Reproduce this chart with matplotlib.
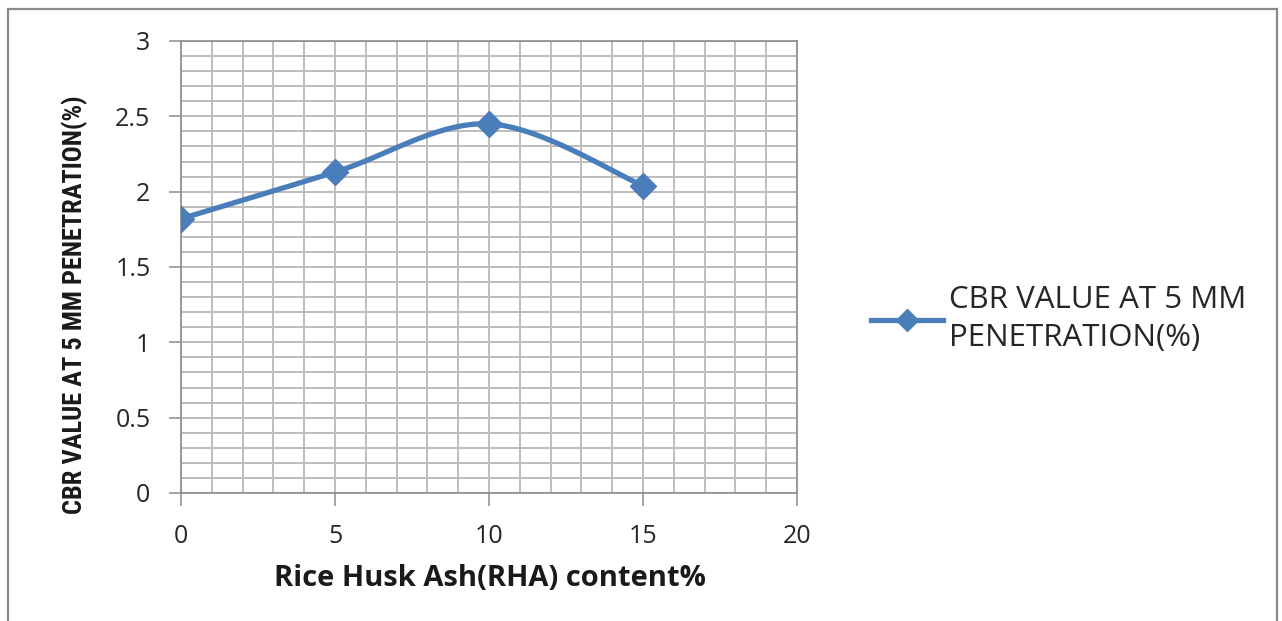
import numpy as np
import matplotlib
matplotlib.use("Agg")
import matplotlib.pyplot as plt
from matplotlib.patches import Rectangle
from matplotlib.lines import Line2D

# RHA content (%) and CBR at 5 mm penetration (%)
rha_content = [0, 5, 10, 15]
cbr_values = [1.82, 2.13, 2.45, 2.04]

x_ticks = [0, 5, 10, 15, 20]
y_ticks = [0, 0.5, 1, 1.5, 2, 2.5, 3]
y_tick_labels = ["0", "0.5", "1", "1.5", "2", "2.5", "3"]

series_label = "CBR VALUE AT 5 MM\nPENETRATION(%)"
x_title = "Rice Husk Ash(RHA) content%"
y_title = "CBR VALUE AT 5 MM PENETRATION(%)"

LINE_BLUE = "#4a7ebb"
GRID = "#bdbdbd"
AXIS = "#8c8c8c"


def smooth_curve(xs, ys, steps=40):
    """Catmull-Rom style smoothing through the given points."""
    xs = np.asarray(xs, float)
    ys = np.asarray(ys, float)
    px = np.concatenate([[xs[0]], xs, [xs[-1]]])
    py = np.concatenate([[ys[0]], ys, [ys[-1]]])
    out_x, out_y = [], []
    t = np.linspace(0, 1, steps)
    for i in range(1, len(px) - 2):
        p0x, p1x, p2x, p3x = px[i - 1], px[i], px[i + 1], px[i + 2]
        p0y, p1y, p2y, p3y = py[i - 1], py[i], py[i + 1], py[i + 2]
        c1x, c1y = p1x + (p2x - p0x) / 6, p1y + (p2y - p0y) / 6
        c2x, c2y = p2x - (p3x - p1x) / 6, p2y - (p3y - p1y) / 6
        bx = (1 - t) ** 3 * p1x + 3 * (1 - t) ** 2 * t * c1x + 3 * (1 - t) * t ** 2 * c2x + t ** 3 * p2x
        by = (1 - t) ** 3 * p1y + 3 * (1 - t) ** 2 * t * c1y + 3 * (1 - t) * t ** 2 * c2y + t ** 3 * p2y
        out_x.extend(bx)
        out_y.extend(by)
    return np.array(out_x), np.array(out_y)


fig = plt.figure(figsize=(12.82, 6.21), dpi=100)
fig.patch.set_facecolor("white")

# outer chart frame
fig.add_artist(Rectangle((8 / 1282, -0.05), (1277 - 8) / 1282, 1.05 - 9 / 621,
                         transform=fig.transFigure, fill=False,
                         edgecolor="#8a8a8a", linewidth=1.6))

ax = fig.add_axes([181 / 1282, 1 - 493 / 621, (797 - 181) / 1282, (493 - 41) / 621])
ax.set_xlim(0, 20)
ax.set_ylim(0, 3)

ax.set_xticks(x_ticks)
ax.set_xticks(np.arange(0, 21, 1), minor=True)
ax.set_yticks(y_ticks)
ax.set_yticklabels(y_tick_labels)
ax.set_yticks(np.arange(0, 3.01, 0.1), minor=True)

ax.grid(True, which="both", color=GRID, linewidth=1.4)
ax.set_axisbelow(True)

for s in ax.spines.values():
    s.set_color(AXIS)
    s.set_linewidth(1.2)

ax.tick_params(which="major", direction="out", length=9, width=1.1, color=AXIS,
               labelsize=18, labelcolor="#262626")
ax.tick_params(axis="y", pad=13)
ax.tick_params(axis="x", pad=13)
ax.tick_params(which="minor", length=0)
for lab in ax.get_xticklabels() + ax.get_yticklabels():
    lab.set_fontfamily("Open Sans")

sx, sy = smooth_curve(rha_content, cbr_values)
ax.plot(sx, sy, color=LINE_BLUE, linewidth=3.8, solid_capstyle="round", zorder=3)
ax.plot(rha_content, cbr_values, linestyle="none", marker="D", markersize=13,
        color=LINE_BLUE, markeredgecolor=LINE_BLUE, zorder=4)

ax.set_xlabel(x_title, fontsize=21, fontweight="bold", family="Open Sans",
              color="#1a1a1a", va="center")
ax.xaxis.set_label_coords((490 - 181) / 616, (493 - 578) / 452)
ax.set_ylabel(y_title, fontsize=19, fontweight="bold",
              family=["Liberation Sans Narrow", "Roboto Condensed", "Liberation Sans"],
              color="#1a1a1a", va="center")
ax.yaxis.set_label_coords((75 - 181) / 616, (493 - 305) / 452)

handle = Line2D([], [], color=LINE_BLUE, linewidth=3.8, marker="D", markersize=11)
leg = fig.legend([handle], [series_label], loc="center left",
                 bbox_to_anchor=(843 / 1282, 1 - 319 / 621), frameon=False,
                 prop={"family": "Open Sans", "size": 22.5}, handlelength=2.3,
                 handletextpad=0.2, labelcolor="#262626")
leg.get_texts()[0].set_linespacing(1.35)

fig.savefig("out.png", dpi=100, facecolor="white")
